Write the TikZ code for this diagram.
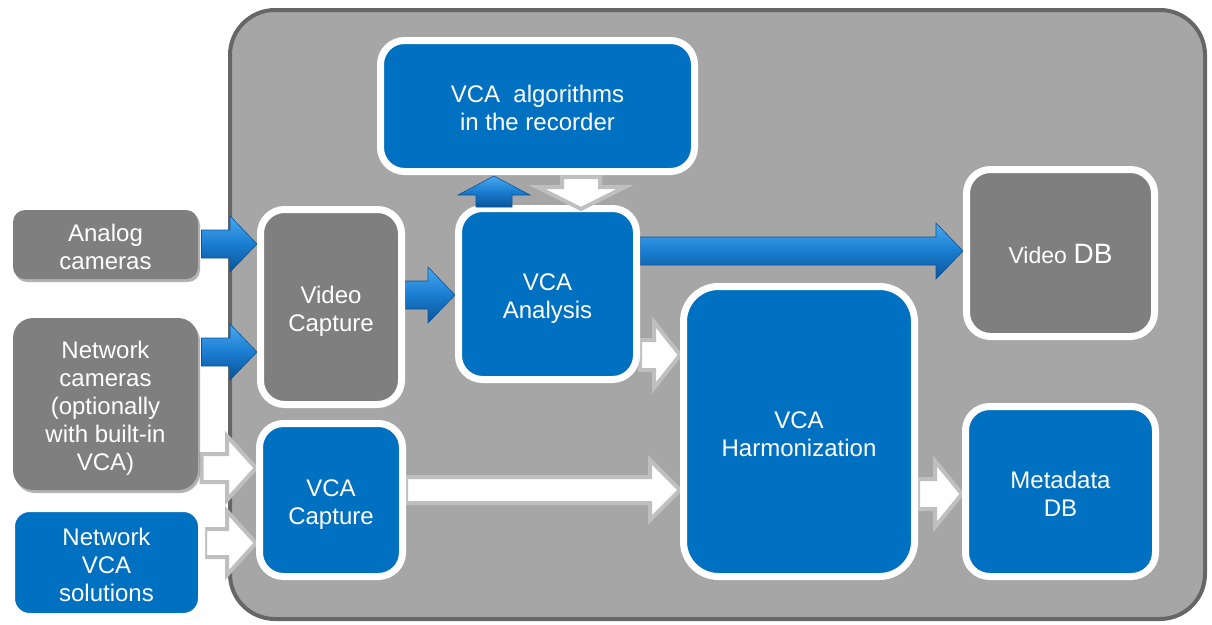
\documentclass[tikz,border=0pt]{standalone}
\usepackage{fontspec}
\setmainfont{Liberation Sans}
\usetikzlibrary{calc,shadows}
\definecolor{cblue}{HTML}{0070C0}
\definecolor{cgray}{HTML}{7F7F7F}
\definecolor{cpanel}{HTML}{A6A6A6}
\definecolor{cpaneledge}{HTML}{666666}
\definecolor{coutl}{HTML}{BFBFBF}
\definecolor{alight}{HTML}{4AA8F0}
\definecolor{amid}{HTML}{1A7DD0}
\definecolor{adark}{HTML}{0A5499}
\pgfdeclarelayer{bg}
\pgfdeclarelayer{arr}
\pgfdeclarelayer{top}
\pgfsetlayers{bg,arr,main,top}
\newcommand\txt{\fontsize{24}{28}\selectfont}
\newcommand\sh{\rule{0pt}{29pt}}
\newcommand\sd{\rule[-8pt]{0pt}{8pt}}
\tikzset{
  fat sw/.store in=\fatsw, fat hw/.store in=\fathw, fat hl/.store in=\fathl,
  fat sw=14pt, fat hw=28pt, fat hl=27pt,
  fat/.style={to path={let \p1=(\tikztostart), \p2=(\tikztotarget), \p3=($(\p2)!\fathl!(\p1)$) in
    ($(\p1)!\fatsw!90:(\p2)$) -- ($(\p3)!\fatsw!90:(\p2)$) -- ($(\p3)!\fathw!90:(\p2)$) -- (\p2)
    -- ($(\p3)!\fathw!-90:(\p2)$) -- ($(\p3)!\fatsw!-90:(\p2)$) -- ($(\p1)!\fatsw!-90:(\p2)$) -- cycle}},
  bluearrow/.style={draw=adark, line width=0.6pt, top color=alight, bottom color=adark, middle color=amid, line join=miter},
  whitearrow/.style={draw=coutl, line width=4pt, fill=white, line join=miter},
  basebox/.style={line width=7pt, rounded corners=24pt, text=white, align=center, font=\txt, inner sep=0pt,
     drop shadow={shadow xshift=2pt, shadow yshift=-3pt, opacity=.3, fill=black}},
  bluebox/.style={basebox, draw=white, fill=cblue},
  graybox/.style={basebox, draw=white, fill=cgray},
  srcbox/.style={basebox, draw=none, fill=cgray, drop shadow={opacity=0}},
  panel/.style={draw=cpaneledge, line width=4pt, fill=cpanel, rounded corners=45pt, inner sep=0pt}
}
\begin{document}
\begin{tikzpicture}[x=1pt,y=-1pt]
\useasboundingbox (0,0) rectangle (1212,624);
\begin{pgfonlayer}{bg}
\node[panel, minimum width=975pt, minimum height=609pt] (frame) at (717.5,314.5) {};
\end{pgfonlayer}
\node[srcbox, rounded corners=12pt, minimum width=185pt, minimum height=69pt] (analog) at (105.5,244.5) {\sh Analog\\cameras\sd};
\node[srcbox, rounded corners=20pt, minimum width=185pt, minimum height=172pt] (netcam) at (105.5,404) {\sh Network\\cameras\\(optionally\\with built-in\\VCA)\sd};
\node[bluebox, rounded corners=18pt, minimum width=190pt, minimum height=108pt] (netvca) at (106.5,562.5) {\sh Network\\VCA\\solutions\sd};
\node[bluebox, minimum width=314pt, minimum height=131pt] (valg) at (537.5,106) {\sh VCA~~algorithms\\in the recorder\sd};
\node[graybox, minimum width=141pt, minimum height=195pt] (vcap) at (331,307) {\sh Video\\Capture\sd};
\node[bluebox, minimum width=178pt, minimum height=171pt] (vana) at (547.5,294) {\sh VCA\\Analysis\sd};
\node[bluebox, minimum width=143pt, minimum height=153pt] (vcac) at (331,500) {\sh VCA\\Capture\sd};
\node[bluebox, rounded corners=35pt, minimum width=231pt, minimum height=290pt] (vharm) at (799,431.5) {\sh VCA\\Harmonization\sd};
\node[graybox, minimum width=188pt, minimum height=167pt] (vdb) at (1060.5,253) {\sh{\fontsize{23}{28}\selectfont Video} {\fontsize{28}{30}\selectfont DB}\sd};
\node[bluebox, minimum width=190pt, minimum height=170pt] (mdb) at (1060.5,491.5) {\sh Metadata\\DB\sd};
\begin{pgfonlayer}{arr}
\draw[bluearrow] (analog.east |- 0,244) to[fat] (vcap.west |- 0,244);
\draw[bluearrow] (netcam.east |- 0,352) to[fat] (vcap.west |- 0,352);
\draw[bluearrow] (vcap.east |- 0,295) to[fat] (vana.west |- 0,295);
\draw[bluearrow] (vana.east |- 0,251) to[fat] (vdb.west |- 0,251);
\draw[whitearrow, fat sw=15pt, fat hw=33pt, fat hl=26pt] (vana.east |- 0,355) to[fat] (vharm.west |- 0,355);
\draw[whitearrow, fat sw=14pt, fat hw=32pt, fat hl=29pt] (netcam.east |- 0,468) to[fat] (vcac.west |- 0,468);
\draw[whitearrow, fat sw=14pt, fat hw=32pt, fat hl=29pt] (netvca.east |- 0,543) to[fat] (vcac.west |- 0,543);
\draw[whitearrow, fat sw=13pt, fat hw=30pt, fat hl=30pt] (vcac.east |- 0,490) to[fat] (vharm.west |- 0,490);
\draw[whitearrow, fat sw=15pt, fat hw=33pt, fat hl=27pt] (vharm.east |- 0,494) to[fat] (mdb.west |- 0,494);
\end{pgfonlayer}
\begin{pgfonlayer}{top}
\draw[bluearrow, fat sw=18pt, fat hw=36pt, fat hl=19pt] ([yshift=-2pt]vana.north -| 494,0) to[fat] ([yshift=-1pt]valg.south -| 494,0);
\draw[whitearrow, fat sw=19pt, fat hw=44pt, fat hl=22pt] ([yshift=-2pt]valg.south -| 581,0) to[fat] ([yshift=-4pt]vana.north -| 581,0);
\end{pgfonlayer}
\end{tikzpicture}
\end{document}
